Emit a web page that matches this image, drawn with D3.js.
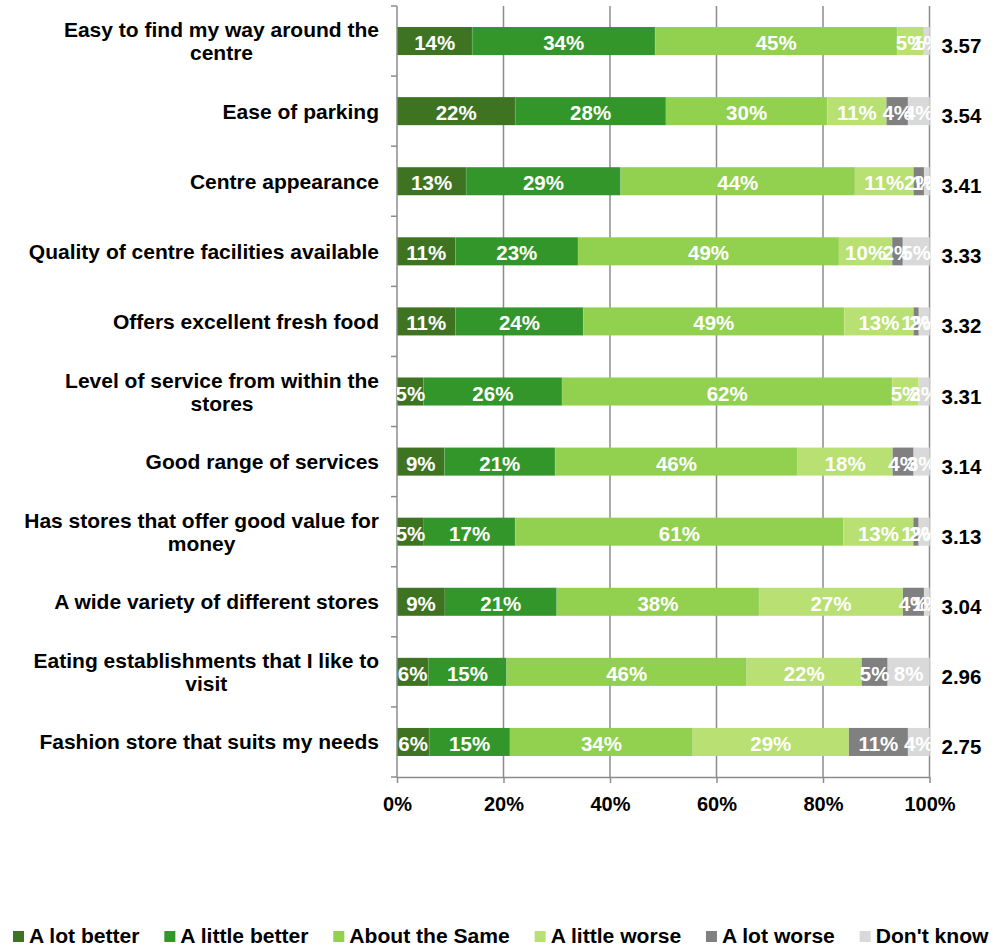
<!DOCTYPE html>
<html>
<head>
<meta charset="utf-8">
<script src="https://cdn.jsdelivr.net/npm/d3@7/dist/d3.min.js"></script>
<style>
  html, body { margin: 0; padding: 0; background: #fff; }
  svg { display: block; font-family: "Liberation Sans", Arial, sans-serif; font-weight: bold; }
</style>
</head>
<body>
<svg id="chart" width="1002" height="946"></svg>
<script>
const categories = [
  "Easy to find my way around the centre",
  "Ease of parking",
  "Centre appearance",
  "Quality of centre facilities available",
  "Offers excellent fresh food",
  "Level of service from within the stores",
  "Good range of services",
  "Has stores that offer good value for money",
  "A wide variety of different stores",
  "Eating establishments that I like to visit",
  "Fashion store that suits my needs"
];
const seriesNames = ["A lot better", "A little better", "About the Same", "A little worse", "A lot worse", "Don't know"];
const aLotBetter    = [14, 22, 13, 11, 11,  5,  9,  5,  9,  6,  6];
const aLittleBetter = [34, 28, 29, 23, 24, 26, 21, 17, 21, 15, 15];
const aboutTheSame  = [45, 30, 44, 49, 49, 62, 46, 61, 38, 46, 34];
const aLittleWorse  = [ 5, 11, 11, 10, 13,  5, 18, 13, 27, 22, 29];
const aLotWorse     = [ 0,  4,  2,  2,  1,  0,  4,  1,  4,  5, 11];
const dontKnow      = [ 1,  4,  1,  5,  2,  2,  3,  2,  1,  8,  4];
const scores = ["3.57", "3.54", "3.41", "3.33", "3.32", "3.31", "3.14", "3.13", "3.04", "2.96", "2.75"];
const xTickValues = [0, 0.2, 0.4, 0.6, 0.8, 1];
const colors = ["#3E7322", "#33962A", "#92D050", "#B9E072", "#808080", "#D9D9D9"];

const seriesValues = [aLotBetter, aLittleBetter, aboutTheSame, aLittleWorse, aLotWorse, dontKnow];
const rows = categories.map((c, i) => {
  const r = { category: c };
  seriesNames.forEach((s, j) => r[s] = seriesValues[j][i]);
  return r;
});

const svg = d3.select("#chart");
const plot = { left: 397, right: 929.5, top: 6, bottom: 777 };

const x = d3.scaleLinear().domain([0, 1]).range([plot.left, plot.right]);
const y = d3.scaleBand().domain(categories).range([plot.top, plot.bottom])
  .paddingInner(0.6).paddingOuter(0.3);

const stack = d3.stack().keys(seriesNames).offset(d3.stackOffsetExpand);
const stacked = stack(rows);

const gridColor = "#8C8C8C";

// gridlines
svg.append("g").selectAll("line").data(xTickValues.filter(d => d > 0)).join("line")
  .attr("x1", d => x(d)).attr("x2", d => x(d))
  .attr("y1", plot.top).attr("y2", plot.bottom)
  .attr("stroke", gridColor).attr("stroke-width", 1.5);

// clip
svg.append("defs").append("clipPath").attr("id", "plotclip")
  .append("rect").attr("x", plot.left).attr("y", 0)
  .attr("width", plot.right - plot.left + 1).attr("height", plot.bottom);

// bars
const layers = svg.append("g").selectAll("g").data(stacked).join("g")
  .attr("fill", (d, i) => colors[i]);
layers.selectAll("rect").data(d => d.map(p => ({ p, cat: p.data.category }))).join("rect")
  .attr("x", d => x(d.p[0]))
  .attr("y", d => y(d.cat))
  .attr("width", d => Math.max(0, x(d.p[1]) - x(d.p[0])))
  .attr("height", y.bandwidth());

// subtle boundary lines between segments
layers.selectAll("line").data(d => d.map(p => ({ p, cat: p.data.category }))).join("line")
  .attr("x1", d => x(d.p[1])).attr("x2", d => x(d.p[1]))
  .attr("y1", d => y(d.cat)).attr("y2", d => y(d.cat) + y.bandwidth())
  .attr("stroke", "#ffffff").attr("stroke-opacity", 0.25).attr("stroke-width", 1);

// y axis
const yAxisG = svg.append("g");
yAxisG.append("line").attr("x1", plot.left).attr("x2", plot.left)
  .attr("y1", plot.top).attr("y2", plot.bottom).attr("stroke", gridColor).attr("stroke-width", 1.5);
const boundaries = d3.range(categories.length + 1).map(i =>
  i === categories.length ? plot.bottom : y(categories[i]) - (y.step() - y.bandwidth()) / 2);
yAxisG.selectAll("line.tk").data(boundaries).join("line").attr("class", "tk")
  .attr("x1", plot.left - 6).attr("x2", plot.left)
  .attr("y1", d => d).attr("y2", d => d)
  .attr("stroke", gridColor).attr("stroke-width", 1.5);

// x axis
const xAxisG = svg.append("g").attr("transform", `translate(0,${plot.bottom})`)
  .call(d3.axisBottom(x).tickValues(xTickValues).tickFormat(d3.format(".0%")).tickSize(6).tickSizeOuter(0));
xAxisG.select(".domain").attr("stroke", gridColor).attr("stroke-width", 1.5);
xAxisG.selectAll(".tick line").attr("stroke", gridColor).attr("stroke-width", 1.5);
xAxisG.selectAll(".tick text").attr("fill", "#000").attr("font-size", "20px")
  .attr("font-weight", "bold").attr("font-family", "Liberation Sans, Arial, sans-serif")
  .attr("dy", null).attr("y", 34);

// value labels
const labelG = svg.append("g").attr("clip-path", "url(#plotclip)");
stacked.forEach((layer) => {
  labelG.append("g").selectAll("text")
    .data(layer.filter(p => p.data[layer.key] > 0).map(p => ({ p, v: p.data[layer.key], cat: p.data.category })))
    .join("text")
    .attr("x", d => (x(d.p[0]) + x(d.p[1])) / 2)
    .attr("y", d => y(d.cat) + y.bandwidth() / 2 + 9)
    .attr("text-anchor", "middle")
    .attr("font-size", "20.5px")
    .attr("fill", "#fff")
    .text(d => d.v + "%");
});

// scores
svg.append("g").selectAll("text").data(categories).join("text")
  .attr("x", plot.right + 12)
  .attr("y", (d) => y(d) + y.bandwidth() / 2 + 12)
  .attr("font-size", "20.5px").attr("fill", "#000")
  .text((d, i) => scores[i]);

// category labels
const catG = svg.append("g");
const maxW = 365, lineH = 23, labelRight = 379;
categories.forEach(c => {
  const t = catG.append("text").attr("font-size", "21px").attr("fill", "#000");
  const words = c.split(" ");
  const lines = [];
  let cur = [];
  const probe = t.append("tspan");
  words.forEach(w => {
    const test = cur.concat([w]).join(" ");
    probe.text(test);
    if (probe.node().getComputedTextLength() > maxW && cur.length) {
      lines.push(cur.join(" "));
      cur = [w];
    } else cur.push(w);
  });
  lines.push(cur.join(" "));
  probe.remove();
  const widths = lines.map(l => { const s = t.append("tspan").text(l); const w = s.node().getComputedTextLength(); s.remove(); return w; });
  const blockW = d3.max(widths);
  const cx = labelRight - blockW / 2;
  const cy = y(c) + y.bandwidth() / 2;
  const first = cy - (lines.length - 1) * lineH / 2 + 7.5;
  lines.forEach((l, i) => {
    t.append("tspan").attr("x", cx).attr("y", first + i * lineH).attr("text-anchor", "middle").text(l);
  });
});

// legend
const legend = svg.append("g");
let lx = 13;
seriesNames.forEach((s, i) => {
  legend.append("rect").attr("x", lx).attr("y", 931).attr("width", 11).attr("height", 11).attr("fill", colors[i]);
  const t = legend.append("text").attr("x", lx + 16).attr("y", 943).attr("font-size", "21.1px").attr("fill", "#000").text(s);
  lx += 16 + t.node().getComputedTextLength() + 24.8;
});
</script>
</body>
</html>
